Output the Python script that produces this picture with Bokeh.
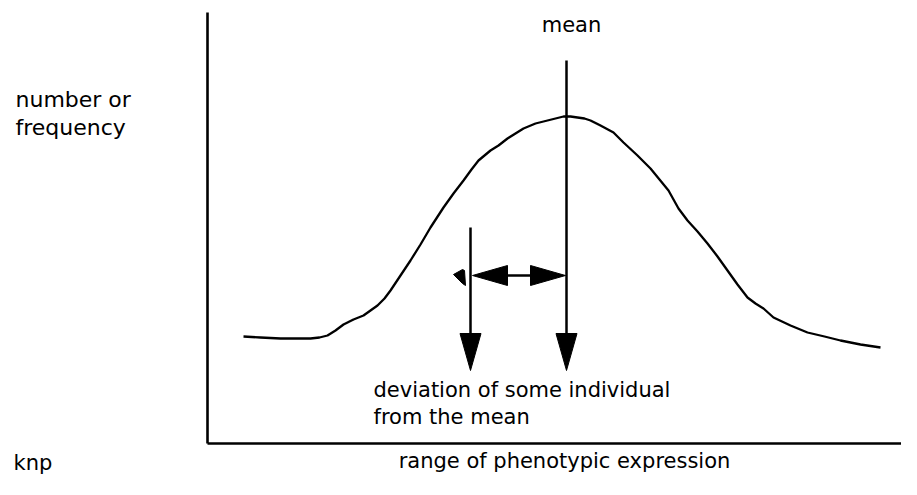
from bokeh.plotting import figure
from bokeh.models import Range1d
from bokeh.core.properties import value
from bokeh.embed import file_html
from bokeh.resources import INLINE

# ---- data (x: phenotypic value, y: number/frequency; origin at axes corner) ----
curve_x = [36, 53, 73, 95, 103, 112, 120, 128, 136, 146, 156, 163, 170, 177, 183, 193,
           203, 213, 223, 236, 246, 256, 264, 271, 283, 291,
           300, 316, 328, 340, 348, 356, 363, 370, 377, 383, 393, 406, 416, 430, 443,
           452, 461, 466, 471, 480, 490, 500, 510,
           520, 530, 540, 548, 556, 566, 583, 600, 617, 633, 653, 673]
curve_y = [107, 106, 105, 105, 105, 106, 108, 113, 119, 124, 128, 133, 138, 145, 153, 168,
           183, 199, 216, 236, 250, 263, 274, 283, 293, 298,
           305, 315, 320, 323, 325, 327, 327, 326, 325, 323, 318, 311, 301, 288, 275,
           264, 253, 244, 235, 223, 212, 200, 187,
           173, 159, 146, 140, 135, 126, 118, 111, 107, 103, 99, 96]

mean_x = 359          # position of the mean
individual_x = 263    # position of some individual
arrow_top_mean = 383
arrow_top_ind = 216
arrow_tip_y = 73
deviation_y = 168

axis_x_end = 710
axis_y_end = 431

stray_x = [246, 255, 257, 258, 255]
stray_y = [169, 174, 173, 158, 160]

labels_text = ["mean", "number or", "frequency", "deviation of some individual",
               "from the mean", "range of phenotypic expression", "knp"]
labels_x = [364, -192, -192, 166, 166, 357, -194]
labels_y = [419, 344, 316, 54, 27, -17, -19]
labels_align = ["center", "left", "left", "left", "left", "center", "left"]
labels_size = ["21px", "22px", "22px", "21px", "21px", "21px", "21px"]

# ---- figure ----
W, H = 901, 479
p = figure(width=W, height=H, output_backend="svg", toolbar_location=None,
           x_range=Range1d(-207, -207 + W), y_range=Range1d(443 - H, 443),
           x_axis_type=None, y_axis_type=None, min_border=0,
           outline_line_color=None, background_fill_color="white")
p.grid.visible = False

# axes lines
p.line([0, 0], [0, axis_y_end], line_color="black", line_width=2.6)
p.line([0, axis_x_end], [0, 0], line_color="black", line_width=2.6)

# curve
p.line(curve_x, curve_y, line_color="black", line_width=2.3, line_join="round")

# vertical arrows
HEAD_LEN, HEAD_HALF = 37, 10.5
for ax, top in [(mean_x, arrow_top_mean), (individual_x, arrow_top_ind)]:
    p.line([ax, ax], [top, arrow_tip_y + 5], line_color="black", line_width=2.5)
    p.patch([ax, ax - HEAD_HALF, ax + HEAD_HALF],
            [arrow_tip_y, arrow_tip_y + HEAD_LEN, arrow_tip_y + HEAD_LEN],
            color="black")

# horizontal double arrow
H_LEN, H_HALF = 35, 10
left_tip = individual_x + 2
right_tip = mean_x - 1
p.line([left_tip + 5, right_tip - 5], [deviation_y, deviation_y],
       line_color="black", line_width=2.5)
p.patch([left_tip, left_tip + H_LEN, left_tip + H_LEN],
        [deviation_y, deviation_y + H_HALF, deviation_y - H_HALF], color="black")
p.patch([right_tip, right_tip - H_LEN, right_tip - H_LEN],
        [deviation_y, deviation_y + H_HALF, deviation_y - H_HALF], color="black")

# small stray mark
p.patch(stray_x, stray_y, color="black")

# labels
for t, x, y, al, fs in zip(labels_text, labels_x, labels_y, labels_align, labels_size):
    p.text(x=[x], y=[y], text=[t], text_align=al, text_baseline="alphabetic",
           text_font=value("DejaVu Sans"), text_font_size=fs, text_color="black")

open("out.html", "w").write(file_html(p, INLINE))
